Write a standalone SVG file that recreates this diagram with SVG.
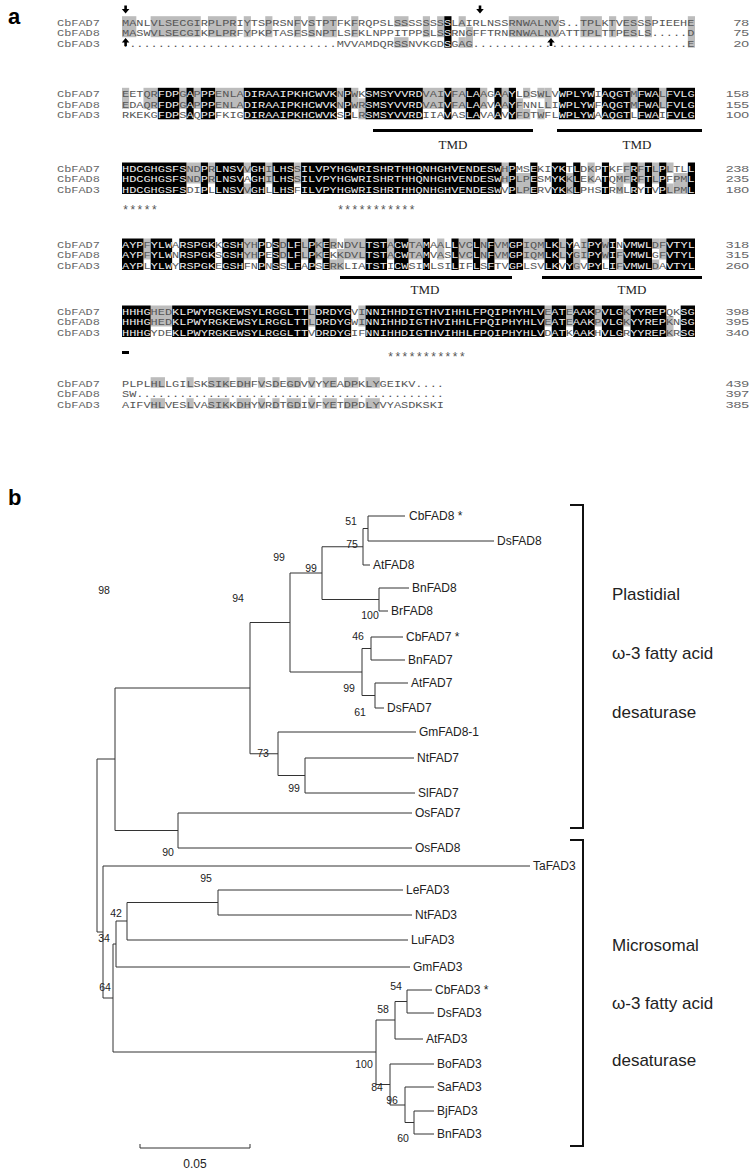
<svg xmlns="http://www.w3.org/2000/svg" width="755" height="1171" viewBox="0 0 755 1171">
<style>
.seq{font-family:"Liberation Mono",monospace;font-size:11.94px;fill:#555}
.w{fill:#eee}
.nm{font-family:"Liberation Mono",monospace;font-size:11.94px;fill:#666}
.num{font-family:"Liberation Sans",Arial,sans-serif;font-size:14px;fill:#666;text-anchor:end}
.k{fill:#000}
.g{fill:#bcbcbc}
.tmd{font-family:"Liberation Serif",serif;font-size:13px;fill:#222;text-anchor:middle}
.bar{fill:#000}
.ast{font-family:"Liberation Mono",monospace;font-size:11.94px;fill:#555}
.lf{font-family:"Liberation Sans",Arial,sans-serif;font-size:12px;fill:#222}
.bs{font-family:"Liberation Sans",Arial,sans-serif;font-size:10.5px;fill:#222;text-anchor:middle}
.brt{font-family:"Liberation Sans",Arial,sans-serif;font-size:17px;fill:#222}
.tr{fill:none;stroke:#333;stroke-width:1}
.brk{fill:none;stroke:#111;stroke-width:2}
.pl{font-family:"Liberation Sans",Arial,sans-serif;font-size:22px;font-weight:bold;fill:#000}
</style>

<text class="pl" x="8" y="24">a</text>

<!-- Block 1 -->
<g id="block1">
<g transform="translate(122,16.2) scale(7.1625,1)">
<g class="g">
<rect x="0" y="0" width="2" height="21"/><rect x="4" y="0" width="7" height="21"/><rect x="12" y="0" width="4" height="21"/><rect x="17" y="0" width="1" height="21"/><rect x="20" y="0" width="1" height="21"/><rect x="24" y="0" width="1" height="21"/><rect x="26" y="0" width="1" height="21"/><rect x="28" y="0" width="2" height="21"/><rect x="32" y="0" width="1" height="21"/><rect x="42" y="0" width="1" height="21"/><rect x="44" y="0" width="1" height="21"/><rect x="54" y="0" width="7" height="21"/><rect x="64" y="0" width="3" height="21"/><rect x="68" y="0" width="1" height="21"/><rect x="70" y="0" width="2" height="21"/><rect x="73" y="0" width="1" height="21"/>
<rect x="38" y="0" width="2" height="10.5"/><rect x="38" y="21" width="2" height="10.5"/><rect x="47" y="0" width="1" height="10.5"/><rect x="47" y="21" width="1" height="10.5"/>
<rect x="48" y="10.5" width="1" height="21"/>
<rect x="79" y="0" width="1" height="31.5"/>
</g>
<g class="k"><rect x="45" y="0" width="1" height="31.5"/></g>
</g>
<g transform="translate(0,25.7) scale(1,0.77)">
<text class="nm" x="57" y="0">CbFAD7</text>
<text class="nm" x="57" y="13.636">CbFAD8</text>
<text class="nm" x="57" y="27.273">CbFAD3</text>
<text class="seq" x="122" y="0">MANLVLSECGIRPLPRIYTSPRSNFVSTPTFKFRQPSLSSSSSSS<tspan class="w">S</tspan>LAIRLNSSRNWALNVS..TPLKTVESSSPIEEHE</text>
<text class="seq" x="122" y="13.636">MASWVLSECGIKPLPRFYPKPTASFSSNPTLSFKLNPPITPPSLS<tspan class="w">S</tspan>RNGFFTRNRNWALNVATTTPLTTPESLS.....D</text>
<text class="seq" x="122" y="27.273">..............................MVVAMDQRSSNVKGD<tspan class="w">S</tspan>GAG..............................E</text>
</g>
<g transform="translate(0,25.7) scale(1,0.67)">
<text class="num" x="749" y="0">78</text>
<text class="num" x="749" y="15.672">75</text>
<text class="num" x="749" y="31.343">20</text>
</g>
<path d="M124.3,5.5h2.6v3.5h2.5l-3.8,4.5l-3.8,-4.5h2.5z" fill="#000"/>
<path d="M478.7,5.5h2.6v3.5h2.5l-3.8,4.5l-3.8,-4.5h2.5z" fill="#000"/>
<path d="M124.3,46h2.6v-3.5h2.5l-3.8,-4.5l-3.8,4.5h2.5z" fill="#000"/>
<path d="M549.7,46h2.6v-3.5h2.5l-3.8,-4.5l-3.8,4.5h2.5z" fill="#000"/>
</g>

<!-- Block 2 -->
<g id="block2">
<g transform="translate(122,87.8) scale(7.1625,1)">
<g class="g">
<rect x="0" y="0" width="1" height="21"/><rect x="3" y="0" width="2" height="21"/><rect x="8" y="0" width="1" height="21"/><rect x="10" y="0" width="1" height="21"/><rect x="13" y="0" width="4" height="21"/><rect x="30" y="0" width="1" height="21"/><rect x="32" y="0" width="1" height="21"/><rect x="42" y="0" width="3" height="21"/><rect x="46" y="0" width="2" height="21"/><rect x="50" y="0" width="1" height="21"/><rect x="53" y="0" width="1" height="21"/><rect x="59" y="0" width="1" height="21"/><rect x="71" y="0" width="1" height="21"/><rect x="75" y="0" width="1" height="21"/>
<rect x="33" y="10.5" width="1" height="21"/><rect x="55" y="10.5" width="1" height="21"/>
<rect x="56" y="0" width="1" height="10.5"/><rect x="56" y="21" width="1" height="10.5"/><rect x="58" y="0" width="1" height="10.5"/><rect x="58" y="21" width="1" height="10.5"/>
</g>
<g class="k">
<rect x="5" y="0" width="3" height="31.5"/><rect x="9" y="0" width="1" height="31.5"/><rect x="11" y="0" width="2" height="31.5"/><rect x="17" y="0" width="13" height="31.5"/><rect x="31" y="0" width="1" height="31.5"/><rect x="34" y="0" width="8" height="31.5"/><rect x="45" y="0" width="1" height="31.5"/><rect x="48" y="0" width="2" height="31.5"/><rect x="52" y="0" width="1" height="31.5"/><rect x="54" y="0" width="1" height="31.5"/><rect x="61" y="0" width="5" height="31.5"/><rect x="67" y="0" width="4" height="31.5"/><rect x="72" y="0" width="3" height="31.5"/><rect x="76" y="0" width="4" height="31.5"/>
</g>
</g>
<g transform="translate(0,97.3) scale(1,0.77)">
<text class="nm" x="57" y="0">CbFAD7</text>
<text class="nm" x="57" y="13.636">CbFAD8</text>
<text class="nm" x="57" y="27.273">CbFAD3</text>
<text class="seq" x="122" y="0">EETQR<tspan class="w">FDP</tspan>G<tspan class="w">A</tspan>P<tspan class="w">PP</tspan>ENLA<tspan class="w">DIRAAIPKHCWVK</tspan>N<tspan class="w">P</tspan>WK<tspan class="w">SMSYVVRD</tspan>VAI<tspan class="w">V</tspan>FA<tspan class="w">LA</tspan>AG<tspan class="w">A</tspan>A<tspan class="w">Y</tspan>LDSWLV<tspan class="w">WPLYW</tspan>I<tspan class="w">AQGT</tspan>M<tspan class="w">FWA</tspan>L<tspan class="w">FVLG</tspan></text>
<text class="seq" x="122" y="13.636">EDAQR<tspan class="w">FDP</tspan>G<tspan class="w">A</tspan>P<tspan class="w">PP</tspan>ENLA<tspan class="w">DIRAAIPKHCWVK</tspan>N<tspan class="w">P</tspan>WR<tspan class="w">SMSYVVRD</tspan>VAI<tspan class="w">V</tspan>FA<tspan class="w">LA</tspan>AV<tspan class="w">A</tspan>A<tspan class="w">Y</tspan>FNNLLI<tspan class="w">WPLYW</tspan>F<tspan class="w">AQGT</tspan>M<tspan class="w">FWA</tspan>L<tspan class="w">FVLG</tspan></text>
<text class="seq" x="122" y="27.273">RKEKG<tspan class="w">FDP</tspan>S<tspan class="w">A</tspan>Q<tspan class="w">PP</tspan>FKIG<tspan class="w">DIRAAIPKHCWVK</tspan>S<tspan class="w">P</tspan>LR<tspan class="w">SMSYVVRD</tspan>IIA<tspan class="w">V</tspan>AS<tspan class="w">LA</tspan>VA<tspan class="w">A</tspan>V<tspan class="w">Y</tspan>FDTWFL<tspan class="w">WPLYW</tspan>A<tspan class="w">AQGT</tspan>L<tspan class="w">FWA</tspan>I<tspan class="w">FVLG</tspan></text>
</g>
<g transform="translate(0,97.3) scale(1,0.67)">
<text class="num" x="749" y="0">158</text>
<text class="num" x="749" y="15.672">155</text>
<text class="num" x="749" y="31.343">100</text>
</g>
<rect class="bar" x="373" y="129" width="160" height="3"/>
<rect class="bar" x="557" y="129" width="145" height="3"/>
<text class="tmd" x="453" y="149">TMD</text>
<text class="tmd" x="637" y="149">TMD</text>
</g>

<!-- Block 3 -->
<g id="block3">
<g transform="translate(122,162.5) scale(7.1625,1)">
<g class="g">
<rect x="9" y="0" width="2" height="21"/><rect x="12" y="0" width="1" height="21"/><rect x="20" y="0" width="1" height="21"/><rect x="24" y="0" width="1" height="21"/><rect x="53" y="0" width="1" height="21"/><rect x="65" y="0" width="1" height="21"/><rect x="70" y="0" width="1" height="21"/><rect x="72" y="0" width="1" height="21"/><rect x="74" y="0" width="1" height="21"/>
<rect x="17" y="0" width="1" height="10.5"/><rect x="17" y="21" width="1" height="10.5"/><rect x="76" y="0" width="1" height="10.5"/><rect x="76" y="21" width="1" height="10.5"/>
<rect x="55" y="10.5" width="2" height="21"/><rect x="62" y="10.5" width="1" height="21"/><rect x="69" y="10.5" width="1" height="21"/><rect x="77" y="10.5" width="2" height="21"/>
</g>
<g class="k">
<rect x="0" y="0" width="9" height="31.5"/><rect x="11" y="0" width="1" height="31.5"/><rect x="13" y="0" width="4" height="31.5"/><rect x="18" y="0" width="2" height="31.5"/><rect x="21" y="0" width="3" height="31.5"/><rect x="25" y="0" width="28" height="31.5"/><rect x="54" y="0" width="1" height="31.5"/><rect x="57" y="0" width="1" height="31.5"/><rect x="60" y="0" width="2" height="31.5"/><rect x="63" y="0" width="1" height="31.5"/><rect x="67" y="0" width="1" height="31.5"/><rect x="71" y="0" width="1" height="31.5"/><rect x="73" y="0" width="1" height="31.5"/><rect x="75" y="0" width="1" height="31.5"/><rect x="79" y="0" width="1" height="31.5"/>
</g>
</g>
<g transform="translate(0,172) scale(1,0.77)">
<text class="nm" x="57" y="0">CbFAD7</text>
<text class="nm" x="57" y="13.636">CbFAD8</text>
<text class="nm" x="57" y="27.273">CbFAD3</text>
<text class="seq" x="122" y="0"><tspan class="w">HDCGHGSFS</tspan>ND<tspan class="w">P</tspan>R<tspan class="w">LNSV</tspan>V<tspan class="w">GH</tspan>I<tspan class="w">LHS</tspan>S<tspan class="w">ILVPYHGWRISHRTHHQNHGHVENDESW</tspan>H<tspan class="w">P</tspan>MS<tspan class="w">E</tspan>KI<tspan class="w">YK</tspan>T<tspan class="w">L</tspan>DKP<tspan class="w">T</tspan>KFF<tspan class="w">R</tspan>F<tspan class="w">T</tspan>L<tspan class="w">P</tspan>LTL<tspan class="w">L</tspan></text>
<text class="seq" x="122" y="13.636"><tspan class="w">HDCGHGSFS</tspan>ND<tspan class="w">P</tspan>R<tspan class="w">LNSV</tspan>A<tspan class="w">GH</tspan>I<tspan class="w">LHS</tspan>S<tspan class="w">ILVPYHGWRISHRTHHQNHGHVENDESW</tspan>H<tspan class="w">P</tspan>LP<tspan class="w">E</tspan>SM<tspan class="w">YK</tspan>K<tspan class="w">L</tspan>EKA<tspan class="w">T</tspan>QMF<tspan class="w">R</tspan>F<tspan class="w">T</tspan>L<tspan class="w">P</tspan>FPM<tspan class="w">L</tspan></text>
<text class="seq" x="122" y="27.273"><tspan class="w">HDCGHGSFS</tspan>DI<tspan class="w">P</tspan>L<tspan class="w">LNSV</tspan>V<tspan class="w">GH</tspan>L<tspan class="w">LHS</tspan>F<tspan class="w">ILVPYHGWRISHRTHHQNHGHVENDESW</tspan>V<tspan class="w">P</tspan>LP<tspan class="w">E</tspan>RV<tspan class="w">YK</tspan>K<tspan class="w">L</tspan>PHS<tspan class="w">T</tspan>RML<tspan class="w">R</tspan>Y<tspan class="w">T</tspan>V<tspan class="w">P</tspan>LPM<tspan class="w">L</tspan></text>
</g>
<g transform="translate(0,172) scale(1,0.67)">
<text class="num" x="749" y="0">238</text>
<text class="num" x="749" y="15.672">235</text>
<text class="num" x="749" y="31.343">180</text>
</g>
<text class="ast" x="122" y="213.5">*****</text>
<text class="ast" x="336.9" y="213.5">***********</text>
</g>

<!-- Block 4 -->
<g id="block4">
<g transform="translate(122,238.5) scale(7.1625,1)">
<g class="g">
<rect x="3" y="0" width="1" height="21"/><rect x="17" y="0" width="2" height="21"/><rect x="22" y="0" width="1" height="21"/><rect x="25" y="0" width="1" height="21"/><rect x="27" y="0" width="1" height="21"/><rect x="31" y="0" width="3" height="21"/><rect x="37" y="0" width="1" height="21"/><rect x="40" y="0" width="2" height="21"/><rect x="44" y="0" width="1" height="21"/><rect x="47" y="0" width="2" height="21"/><rect x="50" y="0" width="1" height="21"/><rect x="52" y="0" width="2" height="21"/><rect x="56" y="0" width="3" height="21"/><rect x="61" y="0" width="1" height="21"/><rect x="64" y="0" width="1" height="21"/><rect x="67" y="0" width="1" height="21"/><rect x="75" y="0" width="1" height="21"/>
<rect x="29" y="0" width="1" height="10.5"/><rect x="29" y="21" width="1" height="10.5"/><rect x="74" y="0" width="1" height="10.5"/><rect x="74" y="21" width="1" height="10.5"/>
<rect x="30" y="10.5" width="1" height="21"/><rect x="63" y="10.5" width="1" height="21"/><rect x="69" y="10.5" width="1" height="21"/>
</g>
<g class="k">
<rect x="0" y="0" width="3" height="31.5"/><rect x="4" y="0" width="3" height="31.5"/><rect x="8" y="0" width="5" height="31.5"/><rect x="14" y="0" width="3" height="31.5"/><rect x="19" y="0" width="1" height="31.5"/><rect x="21" y="0" width="1" height="31.5"/><rect x="23" y="0" width="2" height="31.5"/><rect x="26" y="0" width="1" height="31.5"/><rect x="28" y="0" width="1" height="31.5"/><rect x="34" y="0" width="3" height="31.5"/><rect x="38" y="0" width="2" height="31.5"/><rect x="42" y="0" width="1" height="31.5"/><rect x="46" y="0" width="1" height="31.5"/><rect x="49" y="0" width="1" height="31.5"/><rect x="51" y="0" width="1" height="31.5"/><rect x="54" y="0" width="2" height="31.5"/><rect x="59" y="0" width="2" height="31.5"/><rect x="62" y="0" width="1" height="31.5"/><rect x="65" y="0" width="2" height="31.5"/><rect x="68" y="0" width="1" height="31.5"/><rect x="70" y="0" width="4" height="31.5"/><rect x="76" y="0" width="4" height="31.5"/>
</g>
</g>
<g transform="translate(0,248) scale(1,0.77)">
<text class="nm" x="57" y="0">CbFAD7</text>
<text class="nm" x="57" y="13.636">CbFAD8</text>
<text class="nm" x="57" y="27.273">CbFAD3</text>
<text class="seq" x="122" y="0"><tspan class="w">AYP</tspan>F<tspan class="w">YLW</tspan>A<tspan class="w">RSPGK</tspan>K<tspan class="w">GSH</tspan>YH<tspan class="w">P</tspan>D<tspan class="w">S</tspan>D<tspan class="w">LF</tspan>L<tspan class="w">P</tspan>K<tspan class="w">E</tspan>RNDVL<tspan class="w">TST</tspan>A<tspan class="w">CW</tspan>TA<tspan class="w">M</tspan>AAL<tspan class="w">L</tspan>VC<tspan class="w">L</tspan>N<tspan class="w">F</tspan>VM<tspan class="w">GP</tspan>IQM<tspan class="w">LK</tspan>L<tspan class="w">Y</tspan>AI<tspan class="w">PY</tspan>W<tspan class="w">I</tspan>N<tspan class="w">VMWL</tspan>DF<tspan class="w">VTYL</tspan></text>
<text class="seq" x="122" y="13.636"><tspan class="w">AYP</tspan>F<tspan class="w">YLW</tspan>N<tspan class="w">RSPGK</tspan>S<tspan class="w">GSH</tspan>YH<tspan class="w">P</tspan>E<tspan class="w">S</tspan>D<tspan class="w">LF</tspan>L<tspan class="w">P</tspan>K<tspan class="w">E</tspan>KKDVL<tspan class="w">TST</tspan>A<tspan class="w">CW</tspan>TA<tspan class="w">M</tspan>VAS<tspan class="w">L</tspan>VC<tspan class="w">L</tspan>N<tspan class="w">F</tspan>VM<tspan class="w">GP</tspan>IQM<tspan class="w">LK</tspan>L<tspan class="w">Y</tspan>GI<tspan class="w">PY</tspan>W<tspan class="w">I</tspan>F<tspan class="w">VMWL</tspan>GF<tspan class="w">VTYL</tspan></text>
<text class="seq" x="122" y="27.273"><tspan class="w">AYP</tspan>L<tspan class="w">YLW</tspan>Y<tspan class="w">RSPGK</tspan>E<tspan class="w">GSH</tspan>FN<tspan class="w">P</tspan>N<tspan class="w">S</tspan>S<tspan class="w">LF</tspan>A<tspan class="w">P</tspan>S<tspan class="w">E</tspan>RKLIA<tspan class="w">TST</tspan>I<tspan class="w">CW</tspan>SI<tspan class="w">M</tspan>LSI<tspan class="w">L</tspan>IF<tspan class="w">L</tspan>S<tspan class="w">F</tspan>TV<tspan class="w">GP</tspan>LSV<tspan class="w">LK</tspan>V<tspan class="w">Y</tspan>GV<tspan class="w">PY</tspan>L<tspan class="w">I</tspan>F<tspan class="w">VMWL</tspan>DA<tspan class="w">VTYL</tspan></text>
</g>
<g transform="translate(0,248) scale(1,0.67)">
<text class="num" x="749" y="0">318</text>
<text class="num" x="749" y="15.672">315</text>
<text class="num" x="749" y="31.343">260</text>
</g>
<rect class="bar" x="340" y="276" width="172" height="3"/>
<rect class="bar" x="542" y="276" width="160" height="3"/>
<text class="tmd" x="425" y="294">TMD</text>
<text class="tmd" x="632" y="294">TMD</text>
</g>

<!-- Block 5 -->
<g id="block5">
<g transform="translate(122,305.5) scale(7.1625,1)">
<g class="g">
<rect x="4" y="0" width="3" height="21"/><rect x="26" y="0" width="1" height="21"/><rect x="33" y="0" width="1" height="21"/><rect x="59" y="0" width="1" height="21"/><rect x="62" y="0" width="1" height="21"/><rect x="66" y="0" width="1" height="21"/><rect x="70" y="0" width="1" height="21"/>
<rect x="76" y="10.5" width="1" height="21"/>
</g>
<g class="k">
<rect x="0" y="0" width="4" height="31.5"/><rect x="7" y="0" width="19" height="31.5"/><rect x="27" y="0" width="5" height="31.5"/><rect x="34" y="0" width="25" height="31.5"/><rect x="60" y="0" width="2" height="31.5"/><rect x="63" y="0" width="3" height="31.5"/><rect x="67" y="0" width="3" height="31.5"/><rect x="71" y="0" width="5" height="31.5"/><rect x="78" y="0" width="2" height="31.5"/>
</g>
</g>
<g transform="translate(0,315) scale(1,0.77)">
<text class="nm" x="57" y="0">CbFAD7</text>
<text class="nm" x="57" y="13.636">CbFAD8</text>
<text class="nm" x="57" y="27.273">CbFAD3</text>
<text class="seq" x="122" y="0"><tspan class="w">HHHG</tspan>HED<tspan class="w">KLPWYRGKEWSYLRGGLTT</tspan>L<tspan class="w">DRDYG</tspan>VI<tspan class="w">NNIHHDIGTHVIHHLFPQIPHYHLV</tspan>E<tspan class="w">AT</tspan>E<tspan class="w">AAK</tspan>P<tspan class="w">VLG</tspan>K<tspan class="w">YYREP</tspan>QK<tspan class="w">SG</tspan></text>
<text class="seq" x="122" y="13.636"><tspan class="w">HHHG</tspan>HED<tspan class="w">KLPWYRGKEWSYLRGGLTT</tspan>L<tspan class="w">DRDYG</tspan>WI<tspan class="w">NNIHHDIGTHVIHHLFPQIPHYHLV</tspan>E<tspan class="w">AT</tspan>E<tspan class="w">AAK</tspan>P<tspan class="w">VLG</tspan>K<tspan class="w">YYREP</tspan>KN<tspan class="w">SG</tspan></text>
<text class="seq" x="122" y="27.273"><tspan class="w">HHHG</tspan>YDE<tspan class="w">KLPWYRGKEWSYLRGGLTT</tspan>V<tspan class="w">DRDYG</tspan>IF<tspan class="w">NNIHHDIGTHVIHHLFPQIPHYHLV</tspan>D<tspan class="w">AT</tspan>K<tspan class="w">AAK</tspan>H<tspan class="w">VLG</tspan>R<tspan class="w">YYREP</tspan>KR<tspan class="w">SG</tspan></text>
</g>
<g transform="translate(0,315) scale(1,0.67)">
<text class="num" x="749" y="0">398</text>
<text class="num" x="749" y="15.672">395</text>
<text class="num" x="749" y="31.343">340</text>
</g>
<rect class="bar" x="122" y="351" width="7" height="3"/>
<text class="ast" x="387" y="361">***********</text>
</g>

<!-- Block 6 -->
<g id="block6">
<g transform="translate(122,377.2) scale(7.1625,1)">
<g class="g">
<rect x="4" y="0" width="2" height="10.5"/><rect x="9" y="0" width="1" height="10.5"/><rect x="12" y="0" width="3" height="10.5"/><rect x="16" y="0" width="2" height="10.5"/><rect x="19" y="0" width="1" height="10.5"/><rect x="21" y="0" width="1" height="10.5"/><rect x="23" y="0" width="2" height="10.5"/><rect x="26" y="0" width="1" height="10.5"/><rect x="28" y="0" width="2" height="10.5"/><rect x="31" y="0" width="2" height="10.5"/><rect x="34" y="0" width="2" height="10.5"/>
<rect x="4" y="21" width="2" height="10.5"/><rect x="9" y="21" width="1" height="10.5"/><rect x="12" y="21" width="3" height="10.5"/><rect x="16" y="21" width="2" height="10.5"/><rect x="19" y="21" width="1" height="10.5"/><rect x="21" y="21" width="1" height="10.5"/><rect x="23" y="21" width="2" height="10.5"/><rect x="26" y="21" width="1" height="10.5"/><rect x="28" y="21" width="2" height="10.5"/><rect x="31" y="21" width="2" height="10.5"/><rect x="34" y="21" width="2" height="10.5"/>
</g>
</g>
<g transform="translate(0,386.7) scale(1,0.77)">
<text class="nm" x="57" y="0">CbFAD7</text>
<text class="nm" x="57" y="13.636">CbFAD8</text>
<text class="nm" x="57" y="27.273">CbFAD3</text>
<text class="seq" x="122" y="0">PLPLHLLGILSKSIKEDHFVSDEGDVVYYEADPKLYGEIKV....</text>
<text class="seq" x="122" y="13.636">SW...........................................</text>
<text class="seq" x="122" y="27.273">AIFVHLVESLVASIKKDHYVRDTGDIVFYETDPDLYVYASDKSKI</text>
</g>
<g transform="translate(0,386.7) scale(1,0.67)">
<text class="num" x="749" y="0">439</text>
<text class="num" x="749" y="15.672">397</text>
<text class="num" x="749" y="31.343">385</text>
</g>
</g>

<text class="pl" x="8" y="505">b</text>

<!-- Tree connectors -->
<g id="branches" class="tr">
<path d="M368,516H405M368,541H494M368,516V541"/>
<path d="M363,528.5H368M363,565H370M363,528.5V565"/>
<path d="M379,588H409M379,611H388M379,588V611"/>
<path d="M322,546.75H363M322,599.5H379M322,546.75V599.5"/>
<path d="M371,637H403M371,660H405M371,637V660"/>
<path d="M375,683H408M375,708H384M375,683V708"/>
<path d="M362,648.5H371M362,695.5H375M362,648.5V695.5"/>
<path d="M290,573H322M290,672H362M290,573V672"/>
<path d="M305,758H414M305,793H415M305,758V793"/>
<path d="M278,732H416M278,775.5H305M278,732V775.5"/>
<path d="M250,622.5H290M250,753.75H278M250,622.5V753.75"/>
<path d="M178,813H412M178,848H412M178,813V848"/>
<path d="M115,688H250M115,830.5H178M115,688V830.5"/>
<path d="M218,890H403M218,915H412M218,890V915"/>
<path d="M127,902.5H218M127,940H408M127,902.5V940"/>
<path d="M116,921H127M116,967H410M116,921V967"/>
<path d="M407,990H432M407,1013H434M407,990V1013"/>
<path d="M395,1001.5H407M395,1039H423M395,1001.5V1039"/>
<path d="M414,1111H434M414,1134H434M414,1111V1134"/>
<path d="M405,1087H434M405,1122.5H414M405,1087V1122.5"/>
<path d="M390,1064H434M390,1105H405M390,1064V1105"/>
<path d="M376,1020H395M376,1084.5H390M376,1020V1084.5"/>
<path d="M113,944H116M113,1052H376M113,944V1052"/>
<path d="M103,866H530M103,998H113M103,866V998"/>
<path d="M97,759H115M97,932H103M97,759V932"/>
</g>

<!-- Bootstrap values -->
<g id="bootstrap">
<text class="bs" x="351" y="524.5">51</text>
<text class="bs" x="352" y="547.5">75</text>
<text class="bs" x="311" y="571.5">99</text>
<text class="bs" x="370" y="618.5">100</text>
<text class="bs" x="279" y="560.5">99</text>
<text class="bs" x="358" y="639.5">46</text>
<text class="bs" x="349" y="691.5">99</text>
<text class="bs" x="360" y="715.5">61</text>
<text class="bs" x="238" y="601.5">94</text>
<text class="bs" x="263" y="756.5">73</text>
<text class="bs" x="294" y="791.5">99</text>
<text class="bs" x="104" y="593.5">98</text>
<text class="bs" x="168" y="855.5">90</text>
<text class="bs" x="206" y="881.5">95</text>
<text class="bs" x="116" y="917">42</text>
<text class="bs" x="104" y="941.5">34</text>
<text class="bs" x="105" y="990.5">64</text>
<text class="bs" x="396" y="989.5">54</text>
<text class="bs" x="383" y="1012.5">58</text>
<text class="bs" x="364" y="1067.5">100</text>
<text class="bs" x="377" y="1090.5">84</text>
<text class="bs" x="392" y="1103.5">96</text>
<text class="bs" x="403" y="1141.5">60</text>
</g>

<!-- Leaves -->
<g id="n-CbFAD8"><text class="lf" x="409" y="520">CbFAD8 *</text></g>
<g id="n-DsFAD8"><text class="lf" x="497" y="545">DsFAD8</text></g>
<g id="n-AtFAD8"><text class="lf" x="373" y="569">AtFAD8</text></g>
<g id="n-BnFAD8"><text class="lf" x="412" y="592">BnFAD8</text></g>
<g id="n-BrFAD8"><text class="lf" x="391" y="615">BrFAD8</text></g>
<g id="n-CbFAD7"><text class="lf" x="406" y="641">CbFAD7 *</text></g>
<g id="n-BnFAD7"><text class="lf" x="408" y="664">BnFAD7</text></g>
<g id="n-AtFAD7"><text class="lf" x="411" y="687">AtFAD7</text></g>
<g id="n-DsFAD7"><text class="lf" x="387" y="712">DsFAD7</text></g>
<g id="n-GmFAD8-1"><text class="lf" x="419" y="736">GmFAD8-1</text></g>
<g id="n-NtFAD7"><text class="lf" x="417" y="762">NtFAD7</text></g>
<g id="n-SlFAD7"><text class="lf" x="418" y="797">SlFAD7</text></g>
<g id="n-OsFAD7"><text class="lf" x="415" y="817">OsFAD7</text></g>
<g id="n-OsFAD8"><text class="lf" x="415" y="852">OsFAD8</text></g>
<g id="n-TaFAD3"><text class="lf" x="533" y="870">TaFAD3</text></g>
<g id="n-LeFAD3"><text class="lf" x="406" y="894">LeFAD3</text></g>
<g id="n-NtFAD3"><text class="lf" x="415" y="919">NtFAD3</text></g>
<g id="n-LuFAD3"><text class="lf" x="411" y="944">LuFAD3</text></g>
<g id="n-GmFAD3"><text class="lf" x="413" y="971">GmFAD3</text></g>
<g id="n-CbFAD3"><text class="lf" x="435" y="994">CbFAD3 *</text></g>
<g id="n-DsFAD3"><text class="lf" x="437" y="1017">DsFAD3</text></g>
<g id="n-AtFAD3"><text class="lf" x="426" y="1043">AtFAD3</text></g>
<g id="n-BoFAD3"><text class="lf" x="437" y="1068">BoFAD3</text></g>
<g id="n-SaFAD3"><text class="lf" x="437" y="1091">SaFAD3</text></g>
<g id="n-BjFAD3"><text class="lf" x="437" y="1115">BjFAD3</text></g>
<g id="n-BnFAD3"><text class="lf" x="437" y="1138">BnFAD3</text></g>

<!-- Brackets -->
<g id="plastidial">
<path class="brk" d="M570,505H583V828H570"/>
<text class="brt" x="612" y="600">Plastidial</text>
<text class="brt" x="612" y="659">ω-3 fatty acid</text>
<text class="brt" x="612" y="718">desaturase</text>
</g>
<g id="microsomal">
<path class="brk" d="M570,840H583V1146H570"/>
<text class="brt" x="612" y="951">Microsomal</text>
<text class="brt" x="612" y="1009">ω-3 fatty acid</text>
<text class="brt" x="612" y="1066">desaturase</text>
</g>

<!-- Scale bar -->
<g id="scale">
<path class="tr" d="M140,1144V1148H250V1144"/>
<text class="lf" x="195" y="1168" text-anchor="middle" font-size="11">0.05</text>
</g>
</svg>
